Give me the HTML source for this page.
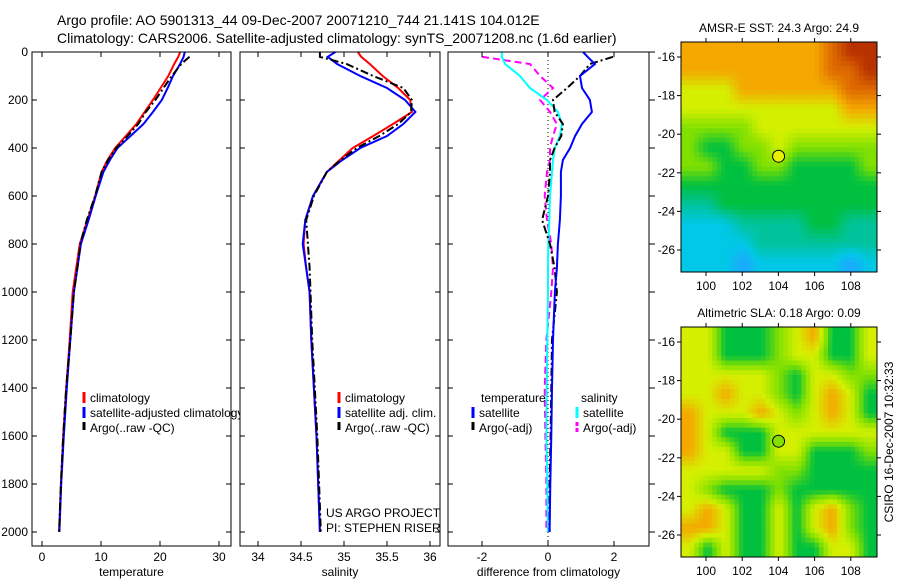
<!DOCTYPE html>
<html><head><meta charset="utf-8"><style>
html,body{margin:0;padding:0;background:#fff}
svg{display:block;font-family:"Liberation Sans",sans-serif}
</style></head><body>
<svg id="c" width="900" height="580" viewBox="0 0 900 580">
<text x="57" y="25" font-size="14">Argo profile: AO 5901313_44 09-Dec-2007 20071210_744 21.141S 104.012E</text>
<text x="57" y="43" font-size="14">Climatology: CARS2006. Satellite-adjusted climatology: synTS_20071208.nc (1.6d earlier)</text>
<g id="g"></g>
</svg>
<script>
// ---- data ----
const depths=[0,20,50,100,150,200,250,300,350,400,450,500,600,700,800,900,1000,1200,1400,1600,1800,2000];
const tempClim=[23.4,23.1,22.4,21.4,20.1,18.8,17.4,16.0,14.2,12.4,11.1,10.1,9.0,7.7,6.4,5.8,5.2,4.7,4.1,3.6,3.2,2.9];
const tempSat=[24.2,24.0,23.4,22.2,21.3,20.3,18.8,17.2,15.0,12.8,11.5,10.4,9.1,7.9,6.6,6.0,5.4,4.8,4.2,3.7,3.25,2.95];
const tempArgo=[null,25.0,23.6,22.0,20.6,19.2,17.6,16.3,14.5,12.6,11.2,10.1,9.0,7.6,6.5,6.0,5.4,4.8,4.1,3.6,3.2,2.9];
const salClim=[35.16,35.2,35.3,35.45,35.63,35.77,35.79,35.57,35.34,35.1,34.95,34.8,34.64,34.55,34.53,34.56,34.6,34.62,34.65,34.68,34.7,34.72];
const salSat=[34.9,34.81,34.92,35.19,35.5,35.71,35.83,35.69,35.5,35.19,34.98,34.8,34.64,34.55,34.52,34.56,34.6,34.62,34.65,34.68,34.7,34.72];
const salArgo=[34.72,34.72,35.03,35.34,35.69,35.79,35.78,35.63,35.41,35.15,34.96,34.8,34.65,34.56,34.58,34.6,34.61,34.63,34.66,34.69,34.71,34.73];
const dTempSat=[1.06,1.2,1.42,0.97,1.03,1.27,1.33,1.03,0.82,0.67,0.45,0.39,0.39,0.36,0.3,0.27,0.21,0.15,0.12,0.1,0.07,0.05];
const dTempArgo=[null,1.97,1.27,0.97,0.58,0.15,0.2,0.45,0.4,0.2,0.06,0.06,0,-0.18,0.06,0.2,0.27,0.12,0.1,0.08,0.05,0.05];
const dSalSat=[-1.4,-1.4,-1.3,-0.85,-0.55,-0.03,0.3,0.42,0.36,0.21,0.15,0.12,0.06,0.04,0.01,0,0,-0.02,-0.04,-0.05,-0.02,0];
const dSalArgo=[null,-2.0,-0.55,-0.24,0.15,-0.24,0.06,0.27,0.15,0.06,0.06,-0.03,-0.1,-0.03,0.1,0.15,0.1,-0.05,-0.1,-0.08,-0.05,-0.05];
const depthTicks=[0,200,400,600,800,1000,1200,1400,1600,1800,2000];
const tempTicks=[0,10,20,30];
const salTicks=[34,34.5,35,35.5,36];
const diffTicks=[-2,0,2];
const lonTicks=[100,102,104,106,108];
const latTicks=[-16,-18,-20,-22,-24,-26];
const sstGrid=[
"66666666788","66666666778","55566666677","55555555566","44445555555","43344544444",
"44334433334","33333333333","22333333333","11122223322","11112222222","11101111101"];
const slaGrid=[
"55333456335","55333455335","55555435544","55655435653","65556545653","65333555555",
"65533553334","55555443333","54333433333","56533535643","66533535643","53533533553"];
const mapColors=["#1ea8ff","#00c8e6","#00c39c","#00c040","#82e000","#d4f000","#f4a800","#de6a00","#b83200"];
const argoLat=-21.14, argoLon=104.01;

// ---- drawing ----
const NS="http://www.w3.org/2000/svg";
const G=document.getElementById('g');
function el(t,a,p){const e=document.createElementNS(NS,t);for(const k in a)e.setAttribute(k,a[k]);(p||G).appendChild(e);return e;}
const Y=d=>52+d*0.24;
function panel(x0,x1,name){
  const g=el('g',{});
  
  
  el('rect',{x:x0,y:52,width:x1-x0,height:494,fill:'#fff'},g);
  return g;
}
function frame(g,x0,x1,xs,ticks,label,rightOut,leftLabels){
  el('rect',{x:x0,y:52,width:x1-x0,height:494,fill:'none',stroke:'#000','stroke-width':1},g);
  depthTicks.forEach(d=>{
    el('line',{x1:x0,x2:x0+5,y1:Y(d),y2:Y(d),stroke:'#000'},g);
    if(rightOut) el('line',{x1:x1,x2:x1+6,y1:Y(d),y2:Y(d),stroke:'#000'},g);
    else el('line',{x1:x1-5,x2:x1,y1:Y(d),y2:Y(d),stroke:'#000'},g);
    if(leftLabels){const t=el('text',{x:x0-4,y:Y(d)+4,'font-size':12,'text-anchor':'end'},g);t.textContent=d;
      }
  });
  ticks.forEach(v=>{const x=xs(v);
    el('line',{x1:x,x2:x,y1:52,y2:57,stroke:'#000'},g);
    el('line',{x1:x,x2:x,y1:541,y2:546,stroke:'#000'},g);
    const t=el('text',{x:x,y:561,'font-size':12,'text-anchor':'middle'},g);t.textContent=v;
    });
  const t=el('text',{x:(x0+x1)/2,y:576,'font-size':12,'text-anchor':'middle'},g);t.textContent=label;
  
}
function line(g,vals,xs,color,dash,name){
  let d='';let pen=false;
  vals.forEach((v,i)=>{if(v===null){pen=false;return;}d+=(pen?'L':'M')+xs(v).toFixed(1)+','+Y(depths[i]).toFixed(1);pen=true;});
  const p=el('path',{d:d,fill:'none',stroke:color,'stroke-width':2,'stroke-dasharray':dash||'none'},g);
  
}
function legend(g,x,y,color,txt,dash){
  el('line',{x1:x,x2:x,y1:y-10,y2:y+1,stroke:color,'stroke-width':3,'stroke-dasharray':dash||'none'},g);
  const t=el('text',{x:x+6,y:y,'font-size':12},g);t.textContent=txt;
  
}
const DD='8,3,2,3';
const xT=v=>42+v*5.9;
const g1=panel(32,231,'temperature-panel');
line(g1,tempClim,xT,'#f00',null,'temp-climatology-line');
line(g1,tempSat,xT,'#00f',null,'temp-satellite-line');
line(g1,tempArgo,xT,'#000',DD,'temp-argo-line');
legend(g1,84,402,'#f00','climatology');legend(g1,84,417,'#00f','satellite-adjusted climatology');legend(g1,84,432,'#000','Argo(..raw -QC)',DD);
const xS=v=>258+(v-34)*86;
const g2=panel(240,440,'salinity-panel');
line(g2,salClim,xS,'#f00',null,'sal-climatology-line');
line(g2,salSat,xS,'#00f',null,'sal-satellite-line');
line(g2,salArgo,xS,'#000',DD,'sal-argo-line');
legend(g2,339,402,'#f00','climatology');legend(g2,339,417,'#00f','satellite adj. clim.');legend(g2,339,432,'#000','Argo(..raw -QC)',DD);
[['US ARGO PROJECT',517],['PI: STEPHEN RISER',532]].forEach(a=>{const t=el('text',{x:326,y:a[1],'font-size':12},g2);t.textContent=a[0];
  });
frame(g1,32,231,xT,tempTicks,'temperature',false,true);
frame(g2,240,440,xS,salTicks,'salinity',false,false);
const xD=v=>548+v*33;
const g3=panel(448,649,'difference-panel');
el('line',{x1:xD(0),x2:xD(0),y1:52,y2:546,stroke:'#000','stroke-dasharray':'1,3'},g3);
line(g3,dSalArgo,xD,'#f0f','7,4','dsal-argo-line');
line(g3,dSalSat,xD,'#0ff',null,'dsal-satellite-line');
line(g3,dTempArgo,xD,'#000',DD,'dtemp-argo-line');
line(g3,dTempSat,xD,'#00f',null,'dtemp-satellite-line');
let t=el('text',{x:481,y:402,'font-size':12},g3);t.textContent='temperature';
t=el('text',{x:581,y:402,'font-size':12},g3);t.textContent='salinity';
legend(g3,473,417,'#00f','satellite');legend(g3,473,432,'#000','Argo(-adj)',DD);
legend(g3,577,417,'#0ff','satellite');legend(g3,577,432,'#f0f','Argo(-adj)','4,2');
frame(g3,448,649,xD,diffTicks,'difference from climatology',true,false);
// maps
function hex(c){return [1,3,5].map(i=>parseInt(c.substr(i,2),16));}
function cmap(v){v=Math.max(0,Math.min(mapColors.length-1,v));const i=Math.min(Math.floor(v),mapColors.length-2),f=v-i;
  const a=hex(mapColors[i]),b=hex(mapColors[i+1]);return 'rgb('+a.map((x,k)=>Math.round(x+(b[k]-x)*f)).join(',')+')';}
function map(top,grid,title,name,dotColor){
  const g=el('g',{});
  const x0=681,x1=877,y0=top,y1=top+230;
  const lx=v=>706+(v-100)*18.1, ly=v=>top+15+(-16-v)*19.3;
  const rows=grid.length,cols=grid[0].length;
  const S=4, W=(x1-x0)/(cols*S), H=(y1-y0)/(rows*S);
  const val=(r,c)=>+grid[Math.max(0,Math.min(rows-1,r))][Math.max(0,Math.min(cols-1,c))];
  for(let i=0;i<rows*S;i++)for(let j=0;j<cols*S;j++){
    const fr=(i+0.5)/S-0.5, fc=(j+0.5)/S-0.5;
    const r0=Math.floor(fr),c0=Math.floor(fc),a=fr-r0,b=fc-c0;
    const v=val(r0,c0)*(1-a)*(1-b)+val(r0,c0+1)*(1-a)*b+val(r0+1,c0)*a*(1-b)+val(r0+1,c0+1)*a*b;
    const c=el('rect',{x:(x0+j*W).toFixed(2),y:(y0+i*H).toFixed(2),width:(W+0.5).toFixed(2),height:(H+0.5).toFixed(2),fill:cmap(v)},g);
    
    
  }
  el('rect',{x:x0,y:y0,width:x1-x0,height:y1-y0,fill:'none',stroke:'#000'},g);
  lonTicks.forEach(v=>{el('line',{x1:lx(v),x2:lx(v),y1:y0-4,y2:y0,stroke:'#000'},g);el('line',{x1:lx(v),x2:lx(v),y1:y1,y2:y1+4,stroke:'#000'},g);
    const t=el('text',{x:lx(v),y:y1+18,'font-size':12,'text-anchor':'middle'},g);t.textContent=v;});
  latTicks.forEach(v=>{el('line',{x1:x0-4,x2:x0,y1:ly(v),y2:ly(v),stroke:'#000'},g);el('line',{x1:x1,x2:x1+4,y1:ly(v),y2:ly(v),stroke:'#000'},g);
    const t=el('text',{x:x0-6,y:ly(v)+4,'font-size':12,'text-anchor':'end'},g);t.textContent=v;});
  const c=el('circle',{cx:lx(argoLon),cy:ly(argoLat),r:6,fill:dotColor,stroke:'#000'},g);
  
  const tt=el('text',{x:779,y:top-10,'font-size':12,'text-anchor':'middle'},g);tt.textContent=title;
  
}
map(42,sstGrid,'AMSR-E SST: 24.3 Argo: 24.9','sst-map','#e6f000');
map(327,slaGrid,'Altimetric SLA: 0.18 Argo: 0.09','sla-map','#82e000');
t=el('text',{x:0,y:0,'font-size':12,'text-anchor':'middle',transform:'translate(893,442) rotate(-90)'});
t.textContent='CSIRO 16-Dec-2007 10:32:33';
</script>
</body></html>
